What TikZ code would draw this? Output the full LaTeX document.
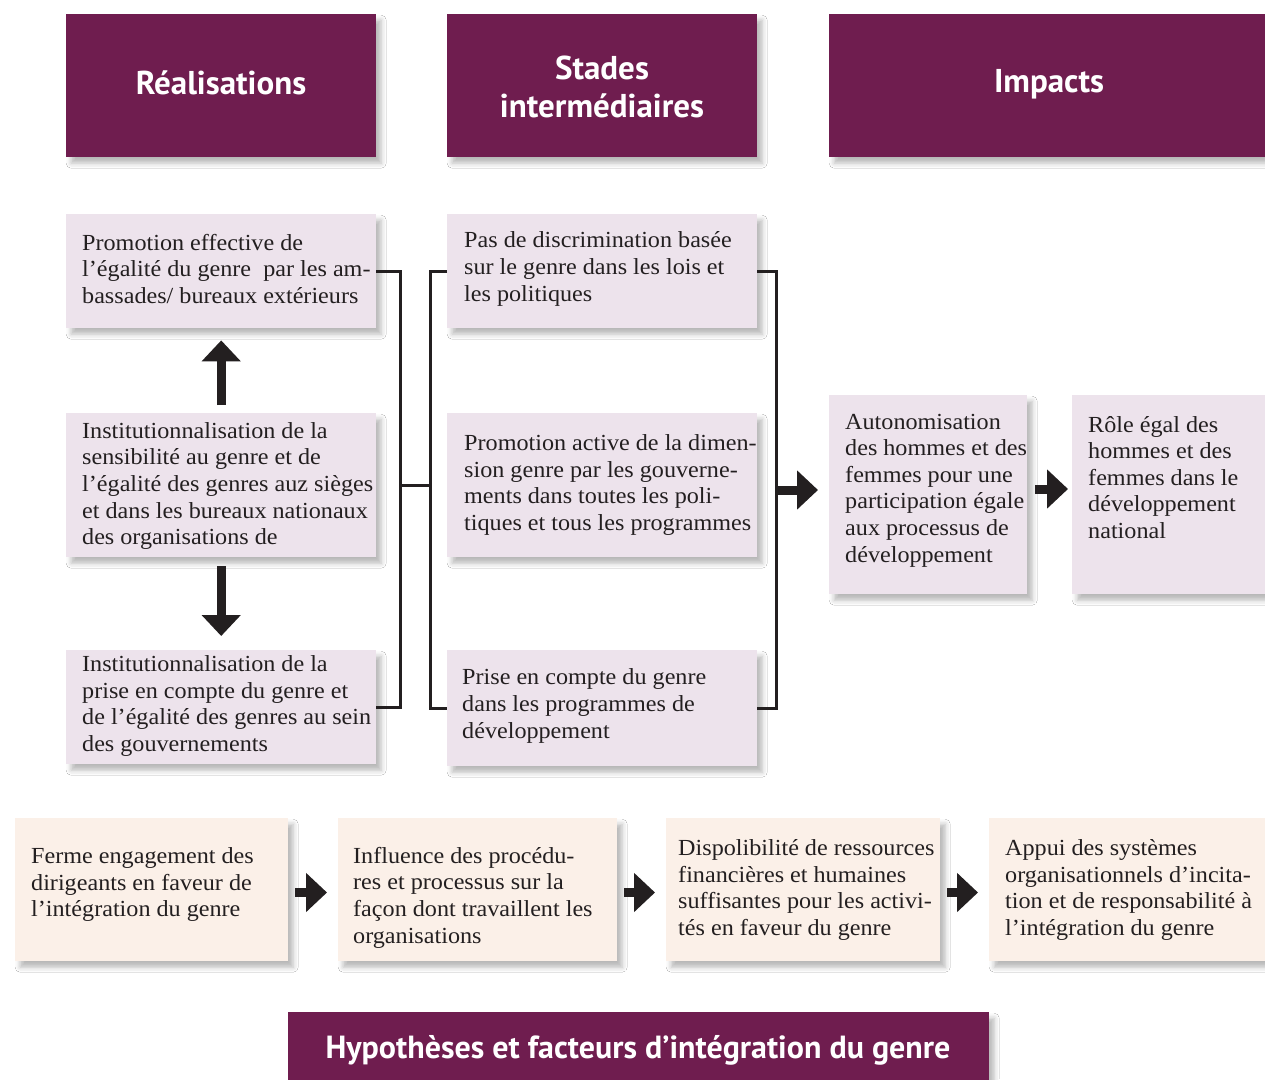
\documentclass[tikz,border=0pt]{standalone}
\usepackage{fontspec}
\setmainfont[FakeStretch=1.05]{Liberation Serif}
\newfontfamily\headfont{PT Sans}
\usetikzlibrary{arrows.meta,shadows.blur}
\definecolor{hdr}{HTML}{6F1D4F}
\definecolor{lav}{HTML}{EDE3EC}
\definecolor{crm}{HTML}{FBF0E8}
\definecolor{ink}{HTML}{231F20}
\tikzset{
  shad/.style={blur shadow={shadow xshift=5pt, shadow yshift=-6pt, shadow blur radius=5pt, shadow opacity=28}},
  hbox/.style={draw=none, fill=hdr, shad, anchor=north west, inner sep=0pt},
  lbox/.style={draw=none, fill=lav, shad, anchor=north west, inner sep=0pt},
  cbox/.style={draw=none, fill=crm, shad, anchor=north west, inner sep=0pt},
  htxt/.style={text=white, font=\headfont\bfseries\fontsize{33}{38}\selectfont, align=center, inner sep=0pt},
  btxt/.style={text=ink, font=\fontsize{23}{26.6}\selectfont, align=left, inner sep=0pt, anchor=west},
  conn/.style={draw=ink, line width=3pt},
  blk/.style={draw=ink, line width=9pt, -{Triangle[length=21pt,width=38pt]}},
}
\begin{document}
\begin{tikzpicture}[x=1pt,y=-1pt]
\useasboundingbox[fill=white] (0,0) rectangle (1265,1079);
% headers
\node[hbox, minimum width=310pt, minimum height=143pt] (H1) at (66,14) {};
\node[hbox, minimum width=310pt, minimum height=143pt] (H2) at (447,14) {};
\node[hbox, minimum width=440pt, minimum height=143pt] (H3) at (829,14) {};
\node[htxt] (H1t) at (221,83) {Réalisations};
\node[htxt] (H2t) at (602,87) {Stades\\intermédiaires};
\node[htxt] (H3t) at (1049,84) {Impacts};
% left column
\node[lbox, minimum width=310pt, minimum height=114pt] (L1) at (66,214) {};
\node[lbox, minimum width=310pt, minimum height=144pt] (L2) at (66,413) {};
\node[lbox, minimum width=310pt, minimum height=114pt] (L3) at (66,650) {};
\node[btxt] (L1t) at (82,269) {Promotion effective de\\l’égalité du genre \ par les am-\\bassades/ bureaux extérieurs};
\node[btxt] (L2t) at (82,486) {Institutionnalisation de la\\sensibilité au genre et de\\l’égalité des genres auz sièges\\et dans les bureaux nationaux\\des organisations de};
\node[btxt] (L3t) at (82,706) {Institutionnalisation de la\\prise en compte du genre et\\de l’égalité des genres au sein\\des gouvernements};
% middle column
\node[lbox, minimum width=310pt, minimum height=114pt] (M1) at (447,214) {};
\node[lbox, minimum width=310pt, minimum height=144pt] (M2) at (447,413) {};
\node[lbox, minimum width=310pt, minimum height=116pt] (M3) at (447,650) {};
\node[btxt] (M1t) at (464,269) {Pas de discrimination basée\\sur le genre dans les lois et\\les politiques};
\node[btxt] (M2t) at (464,485) {Promotion active de la dimen-\\sion genre par les gouverne-\\ments dans toutes les poli-\\tiques et tous les programmes};
\node[btxt] (M3t) at (462,706) {Prise en compte du genre\\dans les programmes de\\développement};
% impacts
\node[lbox, minimum width=198pt, minimum height=199pt] (R1) at (829,395) {};
\node[lbox, minimum width=200pt, minimum height=199pt] (R2) at (1072,395) {};
\node[btxt] (R1t) at (845,490.5) {Autonomisation\\des hommes et des\\femmes pour une\\participation égale\\aux processus de\\développement};
\node[btxt] (R2t) at (1088,477.5) {Rôle égal des\\hommes et des\\femmes dans le\\développement\\national};
% bottom row
\node[cbox, minimum width=273pt, minimum height=143pt] (B1) at (15,818) {};
\node[cbox, minimum width=279pt, minimum height=143pt] (B2) at (338,818) {};
\node[cbox, minimum width=274pt, minimum height=143pt] (B3) at (666,818) {};
\node[cbox, minimum width=280pt, minimum height=143pt] (B4) at (989,818) {};
\node[btxt] (B1t) at (31,884.5) {Ferme engagement des\\dirigeants en faveur de\\l’intégration du genre};
\node[btxt] (B2t) at (353,897.5) {Influence des procédu-\\res et processus sur la\\façon dont travaillent les\\organisations};
\node[btxt] (B3t) at (678,890) {Dispolibilité de ressources\\financières et humaines\\suffisantes pour les activi-\\tés en faveur du genre};
\node[btxt] (B4t) at (1005,890) {Appui des systèmes\\organisationnels d’incita-\\tion et de responsabilité à\\l’intégration du genre};
% bottom header
\node[hbox, minimum width=701pt, minimum height=80pt] (HB) at (288,1012) {};
\node[htxt, font=\headfont\bfseries\fontsize{32}{38}\selectfont] (HBt) at (638,1050) {Hypothèses et facteurs d’intégration du genre};
% brackets
\coordinate (lbx) at (400,0);
\coordinate (mbx) at (430,0);
\coordinate (rbx) at (776,0);
\draw[conn] (L1.east) -| (lbx |- L3.east) -- (L3.east);
\draw[conn] (M1.west) -| (mbx |- M3.west) -- (M3.west);
\draw[conn] (lbx |- L2.east) -- (mbx |- L2.east);
\draw[conn] (M1.east) -| (rbx |- M3.east) -- (M3.east);
% block arrows
\coordinate (ra) at (776,490);
\draw[blk, shorten >=11pt] (ra) -- (R1.west |- ra);
\coordinate (rb) at (0,489);
\draw[blk, shorten <=8pt, shorten >=4pt] (R1.east |- rb) -- (R2.west |- rb);
\draw[blk, shorten <=8pt, shorten >=12pt] (L2.north) -- (L1.south);
\draw[blk, shorten <=9pt, shorten >=14pt] (L2.south) -- (L3.north);
\coordinate (bb) at (0,892.5);
\draw[blk, shorten <=7pt, shorten >=11pt] (B1.east |- bb) -- (B2.west |- bb);
\draw[blk, shorten <=7pt, shorten >=11pt] (B2.east |- bb) -- (B3.west |- bb);
\draw[blk, shorten <=7pt, shorten >=11pt] (B3.east |- bb) -- (B4.west |- bb);
\end{tikzpicture}
\end{document}
